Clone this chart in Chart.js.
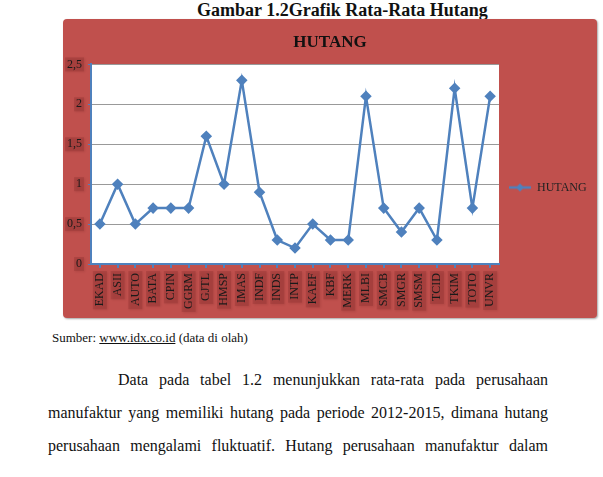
<!DOCTYPE html>
<html>
<head>
<meta charset="utf-8">
<script src="https://cdn.jsdelivr.net/npm/chart.js@4.4.1/dist/chart.umd.min.js"></script>
<style>
  body { margin: 0; width: 603px; height: 477px; background: #fff; position: relative; overflow: hidden;
         font-family: "Liberation Serif", "Times New Roman", serif; color: #111; }
  #judul { position: absolute; left: 197px; top: 0px; font-size: 18px; line-height: 20px; font-weight: bold; white-space: nowrap; }
  #box { position: absolute; left: 63px; top: 19px; width: 534px; height: 299px; background: #C0504D;
         border-radius: 4px; box-shadow: 1px 1px 2px rgba(0,0,0,0.35); }
  #sumber { position: absolute; left: 52px; top: 330px; font-size: 13px; white-space: nowrap; }
  .baris { position: absolute; left: 48px; width: 500px; font-size: 16px; text-align: justify; text-align-last: justify; }
</style>
</head>
<body>
<div id="judul">Gambar 1.2Grafik Rata-Rata Hutang</div>
<div id="box"><canvas id="myChart"></canvas></div>
<div id="sumber">Sumber: <u>www.idx.co.id</u> (data di olah)</div>
<div class="baris" style="top:371px; left:118px; width:430px">Data pada tabel 1.2 menunjukkan rata-rata pada perusahaan</div>
<div class="baris" style="top:404px">manufaktur yang memiliki hutang pada periode 2012-2015, dimana hutang</div>
<div class="baris" style="top:437px">perusahaan mengalami fluktuatif. Hutang perusahaan manufaktur dalam</div>

<script>
// data hutang per perusahaan
const perusahaan = ['EKAD','ASII','AUTO','BATA','CPIN','GGRM','GJTL','HMSP','IMAS','INDF','INDS','INTP',
  'KAEF','KBF','MERK','MLBI','SMCB','SMGR','SMSM','TCID','TKIM','TOTO','UNVR'];
const hutang = [0.5, 1.0, 0.5, 0.7, 0.7, 0.7, 1.6, 1.0, 2.3, 0.9, 0.3, 0.2,
  0.5, 0.3, 0.3, 2.1, 0.7, 0.4, 0.7, 0.3, 2.2, 0.7, 2.1];
const yTicks = [0, 0.5, 1, 1.5, 2, 2.5];

const biru = '#4F81BD';
const serif = 'Liberation Serif';

// gambar legend: garis + diamond
let ikon = document.createElement('canvas');
ikon.width = 22; ikon.height = 10;
let ic = ikon.getContext('2d');
ic.strokeStyle = biru; ic.lineWidth = 2.5;
ic.beginPath(); ic.moveTo(0, 5); ic.lineTo(22, 5); ic.stroke();
ic.fillStyle = biru;
ic.beginPath(); ic.moveTo(11, 1); ic.lineTo(15, 5); ic.lineTo(11, 9); ic.lineTo(7, 5); ic.closePath(); ic.fill();

// kotak kecil di belakang label sumbu
let kotak = (c, x, y, w, h) => {
  c.save();
  c.shadowColor = 'rgba(60,0,0,0.45)';
  c.shadowOffsetX = 1; c.shadowOffsetY = 1; c.shadowBlur = 2;
  c.fillStyle = 'rgba(120,30,30,0.22)';
  c.fillRect(x, y, w, h);
  c.restore();
};

const putih = {
  id: 'putih',
  beforeInit(chart) {
    const fit = chart.legend.fit;
    chart.legend.fit = function () { fit.bind(chart.legend)(); this.width = 98; };
  },
  afterLayout(chart) {
    chart.legend.top += 19;
    chart.legend.bottom += 19;
  },
  beforeDraw(chart) {
    const a = chart.chartArea;
    const c = chart.ctx;
    c.save();
    c.fillStyle = '#fff';
    c.fillRect(a.left, a.top, a.right - a.left, a.bottom - a.top);
    c.font = '12px "' + serif + '"';
    const sx = chart.scales.x;
    perusahaan.forEach((lab, i) => {
      const w = c.measureText(lab).width;
      const px = sx.getPixelForTick(i);
      kotak(c, px - 7, sx.top + 7, 14, w + 5);
    });
    const sy = chart.scales.y;
    yTicks.forEach(v => {
      const lab = String(v).replace('.', ',');
      const w = c.measureText(lab).width;
      const py = sy.getPixelForValue(v);
      kotak(c, sy.right - 9 - w - 2, py - 7, w + 4, 14);
    });
    c.restore();
  }
};

const ctx = document.getElementById('myChart');

new Chart(ctx, {
  type: 'line',
  data: {
    labels: perusahaan,
    datasets: [{
      label: 'HUTANG',
      data: hutang,
      borderColor: biru,
      backgroundColor: biru,
      borderWidth: 2.5,
      pointStyle: 'rectRot',
      pointRadius: 4,
      tension: 0
    }]
  },
  options: {
    responsive: true,
    maintainAspectRatio: false,
    animation: false,
    plugins: {
      title: {
        display: true,
        text: 'HUTANG',
        color: '#111',
        font: { family: serif, size: 17, weight: 'bold' },
        padding: { top: 13, bottom: 12 }
      },
      legend: {
        position: 'right',
        labels: {
          usePointStyle: true,
          pointStyle: ikon,
          pointStyleWidth: 22,
          color: '#222',
          font: { family: serif, size: 12 }
        }
      },
      tooltip: { enabled: false }
    },
    scales: {
      x: {
        offset: true,
        afterFit: s => { s.height = 54; },
        grid: { color: 'rgba(0,0,0,0)', tickColor: biru, tickLength: 4, lineWidth: 2 },
        border: { color: biru, width: 2 },
        ticks: {
          autoSkip: false,
          minRotation: 90,
          maxRotation: 90,
          padding: 5,
          color: '#1a1a1a',
          font: { family: serif, size: 12 }
        }
      },
      y: {
        min: 0,
        max: 2.5,
        afterFit: s => { s.width = 28; },
        afterBuildTicks: s => { s.ticks = yTicks.map(v => ({ value: v })); },
        grid: { color: '#999', tickColor: biru, tickLength: 3, lineWidth: 1 },
        border: { color: biru, width: 2 },
        ticks: {
          padding: 6,
          color: '#1a1a1a',
          font: { family: serif, size: 12 },
          callback: v => String(v).replace('.', ',')
        }
      }
    }
  },
  plugins: [putih]
});
</script>
</body>
</html>
